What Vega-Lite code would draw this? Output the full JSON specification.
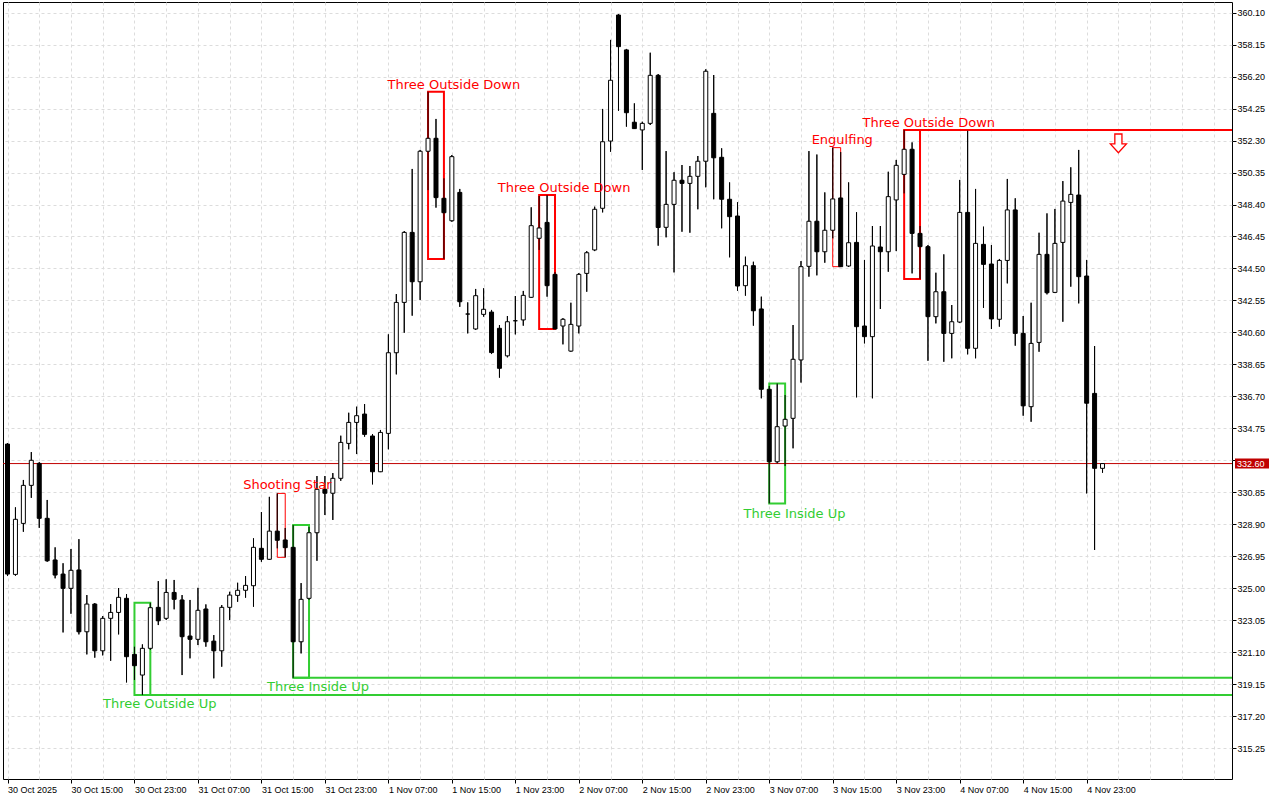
{
"$schema":"https://vega.github.io/schema/vega-lite/v6.json",
"width":1229,"height":777,
"autosize":{"type":"none"},
"padding":{"left":3,"top":2,"right":48,"bottom":21},
"background":"white",
"config":{
"view":{"stroke":"black","strokeWidth":1},
"axis":{"labelFont":"Liberation Sans","labelFontSize":9,"labelColor":"black","tickColor":"black","domain":false,"gridColor":"#dcdcdc","gridDash":[3,3],"gridWidth":1}
},
"datasets":{
"candles":[
{"t":"2025-10-30T07:00Z","o":333.79,"h":333.85,"l":325.74,"c":325.86},
{"t":"2025-10-30T08:00Z","o":325.84,"h":329.93,"l":325.76,"c":329.20},
{"t":"2025-10-30T09:00Z","o":328.95,"h":331.60,"l":328.44,"c":331.27},
{"t":"2025-10-30T10:00Z","o":331.27,"h":333.30,"l":330.51,"c":332.80},
{"t":"2025-10-30T11:00Z","o":332.61,"h":332.69,"l":328.68,"c":329.26},
{"t":"2025-10-30T12:00Z","o":329.26,"h":330.38,"l":326.61,"c":326.67},
{"t":"2025-10-30T13:00Z","o":326.72,"h":327.49,"l":325.60,"c":325.80},
{"t":"2025-10-30T14:00Z","o":325.86,"h":326.52,"l":322.30,"c":324.99},
{"t":"2025-10-30T15:00Z","o":324.99,"h":327.39,"l":323.44,"c":326.09},
{"t":"2025-10-30T16:00Z","o":326.11,"h":327.99,"l":322.18,"c":322.34},
{"t":"2025-10-30T17:00Z","o":322.34,"h":324.58,"l":320.96,"c":324.03},
{"t":"2025-10-30T18:00Z","o":324.03,"h":324.09,"l":320.76,"c":321.18},
{"t":"2025-10-30T19:00Z","o":321.18,"h":323.30,"l":320.90,"c":323.16},
{"t":"2025-10-30T20:00Z","o":323.16,"h":324.03,"l":320.57,"c":323.52},
{"t":"2025-10-30T21:00Z","o":323.52,"h":325.01,"l":322.18,"c":324.44},
{"t":"2025-10-30T22:00Z","o":324.38,"h":324.64,"l":319.25,"c":320.82},
{"t":"2025-10-30T23:00Z","o":320.96,"h":321.43,"l":319.40,"c":320.27},
{"t":"2025-10-31T00:00Z","o":319.70,"h":321.57,"l":318.48,"c":321.33},
{"t":"2025-10-31T01:00Z","o":321.33,"h":324.11,"l":321.23,"c":323.81},
{"t":"2025-10-31T02:00Z","o":323.83,"h":325.43,"l":322.75,"c":323.01},
{"t":"2025-10-31T03:00Z","o":323.16,"h":325.54,"l":323.06,"c":324.74},
{"t":"2025-10-31T04:00Z","o":324.74,"h":325.50,"l":323.71,"c":324.32},
{"t":"2025-10-31T05:00Z","o":324.28,"h":324.58,"l":319.70,"c":322.04},
{"t":"2025-10-31T06:00Z","o":322.08,"h":324.28,"l":320.72,"c":321.88},
{"t":"2025-10-31T07:00Z","o":321.88,"h":325.02,"l":321.53,"c":323.65},
{"t":"2025-10-31T08:00Z","o":323.73,"h":324.01,"l":321.43,"c":321.73},
{"t":"2025-10-31T09:00Z","o":321.77,"h":322.14,"l":319.50,"c":321.18},
{"t":"2025-10-31T10:00Z","o":321.18,"h":323.97,"l":320.21,"c":323.83},
{"t":"2025-10-31T11:00Z","o":323.83,"h":324.78,"l":323.06,"c":324.58},
{"t":"2025-10-31T12:00Z","o":324.56,"h":325.33,"l":324.17,"c":324.87},
{"t":"2025-10-31T13:00Z","o":324.87,"h":325.74,"l":324.42,"c":325.17},
{"t":"2025-10-31T14:00Z","o":325.15,"h":328.04,"l":323.87,"c":327.49},
{"t":"2025-10-31T15:00Z","o":327.43,"h":329.64,"l":326.61,"c":326.76},
{"t":"2025-10-31T16:00Z","o":326.76,"h":330.57,"l":326.72,"c":328.48},
{"t":"2025-10-31T17:00Z","o":328.48,"h":330.78,"l":327.43,"c":327.92},
{"t":"2025-10-31T18:00Z","o":327.94,"h":328.67,"l":326.88,"c":327.47},
{"t":"2025-10-31T19:00Z","o":327.49,"h":328.85,"l":319.53,"c":321.73},
{"t":"2025-10-31T20:00Z","o":321.73,"h":325.31,"l":321.02,"c":324.32},
{"t":"2025-10-31T21:00Z","o":324.38,"h":328.73,"l":324.28,"c":328.38},
{"t":"2025-10-31T22:00Z","o":328.38,"h":331.84,"l":326.67,"c":331.03},
{"t":"2025-10-31T23:00Z","o":331.03,"h":331.84,"l":329.46,"c":330.79},
{"t":"2025-11-01T00:00Z","o":330.79,"h":332.02,"l":329.16,"c":331.70},
{"t":"2025-11-01T01:00Z","o":331.70,"h":334.30,"l":331.55,"c":333.89},
{"t":"2025-11-01T02:00Z","o":333.83,"h":335.70,"l":333.47,"c":335.11},
{"t":"2025-11-01T03:00Z","o":335.11,"h":336.07,"l":333.18,"c":335.52},
{"t":"2025-11-01T04:00Z","o":335.62,"h":336.23,"l":334.24,"c":334.38},
{"t":"2025-11-01T05:00Z","o":334.28,"h":334.40,"l":331.33,"c":332.10},
{"t":"2025-11-01T06:00Z","o":332.10,"h":334.65,"l":332.08,"c":334.50},
{"t":"2025-11-01T07:00Z","o":334.44,"h":340.48,"l":333.47,"c":339.36},
{"t":"2025-11-01T08:00Z","o":339.36,"h":342.94,"l":338.04,"c":342.43},
{"t":"2025-11-01T09:00Z","o":342.43,"h":346.78,"l":340.58,"c":346.70},
{"t":"2025-11-01T10:00Z","o":346.70,"h":350.57,"l":341.62,"c":343.69},
{"t":"2025-11-01T11:00Z","o":343.69,"h":351.73,"l":342.58,"c":351.65},
{"t":"2025-11-01T12:00Z","o":351.65,"h":355.28,"l":349.28,"c":352.44},
{"t":"2025-11-01T13:00Z","o":352.44,"h":353.62,"l":348.21,"c":348.82},
{"t":"2025-11-01T14:00Z","o":348.78,"h":350.00,"l":345.08,"c":347.90},
{"t":"2025-11-01T15:00Z","o":347.41,"h":351.42,"l":347.35,"c":351.32},
{"t":"2025-11-01T16:00Z","o":349.14,"h":349.35,"l":342.16,"c":342.47},
{"t":"2025-11-01T17:00Z","o":341.72,"h":342.43,"l":340.54,"c":341.72},
{"t":"2025-11-01T18:00Z","o":340.81,"h":343.25,"l":340.75,"c":342.84},
{"t":"2025-11-01T19:00Z","o":341.70,"h":343.29,"l":341.56,"c":342.01},
{"t":"2025-11-01T20:00Z","o":341.84,"h":341.97,"l":339.28,"c":339.37},
{"t":"2025-11-01T21:00Z","o":340.85,"h":341.05,"l":337.84,"c":338.41},
{"t":"2025-11-01T22:00Z","o":339.17,"h":341.60,"l":339.08,"c":341.25},
{"t":"2025-11-01T23:00Z","o":341.31,"h":342.82,"l":340.48,"c":341.31},
{"t":"2025-11-02T00:00Z","o":341.36,"h":343.13,"l":341.01,"c":342.86},
{"t":"2025-11-02T01:00Z","o":342.74,"h":348.23,"l":342.70,"c":347.11},
{"t":"2025-11-02T02:00Z","o":346.34,"h":348.92,"l":345.63,"c":346.97},
{"t":"2025-11-02T03:00Z","o":347.31,"h":348.98,"l":342.78,"c":343.45},
{"t":"2025-11-02T04:00Z","o":344.14,"h":344.28,"l":340.81,"c":340.81},
{"t":"2025-11-02T05:00Z","o":340.99,"h":341.47,"l":339.87,"c":341.40},
{"t":"2025-11-02T06:00Z","o":339.46,"h":342.41,"l":339.42,"c":341.09},
{"t":"2025-11-02T07:00Z","o":340.99,"h":344.22,"l":340.54,"c":344.14},
{"t":"2025-11-02T08:00Z","o":344.20,"h":345.56,"l":343.08,"c":345.46},
{"t":"2025-11-02T09:00Z","o":345.63,"h":348.27,"l":345.56,"c":348.11},
{"t":"2025-11-02T10:00Z","o":348.17,"h":354.23,"l":347.92,"c":352.23},
{"t":"2025-11-02T11:00Z","o":352.27,"h":358.44,"l":351.62,"c":355.98},
{"t":"2025-11-02T12:00Z","o":359.96,"h":360.02,"l":354.12,"c":358.03},
{"t":"2025-11-02T13:00Z","o":357.83,"h":357.89,"l":353.15,"c":354.00},
{"t":"2025-11-02T14:00Z","o":353.42,"h":354.57,"l":353.01,"c":353.03},
{"t":"2025-11-02T15:00Z","o":352.95,"h":353.45,"l":350.51,"c":353.35},
{"t":"2025-11-02T16:00Z","o":353.35,"h":357.66,"l":353.25,"c":356.28},
{"t":"2025-11-02T17:00Z","o":356.28,"h":356.36,"l":345.89,"c":347.00},
{"t":"2025-11-02T18:00Z","o":347.01,"h":351.66,"l":346.40,"c":348.41},
{"t":"2025-11-02T19:00Z","o":348.41,"h":350.37,"l":344.26,"c":349.88},
{"t":"2025-11-02T20:00Z","o":349.88,"h":350.81,"l":346.74,"c":349.69},
{"t":"2025-11-02T21:00Z","o":349.69,"h":350.75,"l":346.68,"c":350.12},
{"t":"2025-11-02T22:00Z","o":350.12,"h":351.36,"l":348.11,"c":351.04},
{"t":"2025-11-02T23:00Z","o":351.04,"h":356.65,"l":349.45,"c":356.53},
{"t":"2025-11-03T00:00Z","o":353.96,"h":356.30,"l":348.72,"c":351.25},
{"t":"2025-11-03T01:00Z","o":351.28,"h":351.83,"l":346.95,"c":348.72},
{"t":"2025-11-03T02:00Z","o":348.72,"h":349.75,"l":345.18,"c":347.66},
{"t":"2025-11-03T03:00Z","o":347.70,"h":348.54,"l":343.14,"c":343.43},
{"t":"2025-11-03T04:00Z","o":343.45,"h":345.22,"l":342.84,"c":344.67},
{"t":"2025-11-03T05:00Z","o":344.67,"h":344.91,"l":341.01,"c":341.92},
{"t":"2025-11-03T06:00Z","o":342.03,"h":342.78,"l":336.58,"c":337.13},
{"t":"2025-11-03T07:00Z","o":337.13,"h":337.33,"l":330.17,"c":332.71},
{"t":"2025-11-03T08:00Z","o":332.71,"h":337.49,"l":332.61,"c":334.85},
{"t":"2025-11-03T09:00Z","o":334.89,"h":336.78,"l":332.45,"c":335.30},
{"t":"2025-11-03T10:00Z","o":335.36,"h":341.05,"l":333.53,"c":338.96},
{"t":"2025-11-03T11:00Z","o":338.92,"h":344.95,"l":337.54,"c":344.61},
{"t":"2025-11-03T12:00Z","o":344.63,"h":351.66,"l":344.00,"c":347.38},
{"t":"2025-11-03T13:00Z","o":347.38,"h":351.45,"l":344.08,"c":345.52},
{"t":"2025-11-03T14:00Z","o":345.52,"h":349.14,"l":344.85,"c":346.83},
{"t":"2025-11-03T15:00Z","o":346.83,"h":351.87,"l":346.34,"c":348.74},
{"t":"2025-11-03T16:00Z","o":348.80,"h":351.60,"l":344.59,"c":344.61},
{"t":"2025-11-03T17:00Z","o":344.65,"h":349.75,"l":344.59,"c":346.07},
{"t":"2025-11-03T18:00Z","o":346.09,"h":347.93,"l":336.64,"c":340.95},
{"t":"2025-11-03T19:00Z","o":340.99,"h":345.02,"l":339.93,"c":340.34},
{"t":"2025-11-03T20:00Z","o":340.34,"h":347.09,"l":336.58,"c":345.87},
{"t":"2025-11-03T21:00Z","o":345.81,"h":347.09,"l":342.03,"c":345.52},
{"t":"2025-11-03T22:00Z","o":345.52,"h":350.40,"l":344.30,"c":348.88},
{"t":"2025-11-03T23:00Z","o":348.68,"h":351.12,"l":345.56,"c":350.79},
{"t":"2025-11-04T00:00Z","o":350.24,"h":352.95,"l":349.08,"c":351.77},
{"t":"2025-11-04T01:00Z","o":351.77,"h":352.19,"l":344.20,"c":346.64},
{"t":"2025-11-04T02:00Z","o":346.64,"h":347.09,"l":343.86,"c":345.83},
{"t":"2025-11-04T03:00Z","o":345.83,"h":345.93,"l":338.87,"c":341.56},
{"t":"2025-11-04T04:00Z","o":341.56,"h":344.24,"l":341.15,"c":343.08},
{"t":"2025-11-04T05:00Z","o":343.08,"h":345.36,"l":338.81,"c":340.54},
{"t":"2025-11-04T06:00Z","o":340.54,"h":342.27,"l":339.02,"c":341.25},
{"t":"2025-11-04T07:00Z","o":341.23,"h":349.90,"l":341.17,"c":347.92},
{"t":"2025-11-04T08:00Z","o":347.92,"h":352.90,"l":339.26,"c":339.63},
{"t":"2025-11-04T09:00Z","o":339.63,"h":349.35,"l":339.02,"c":346.03},
{"t":"2025-11-04T10:00Z","o":345.97,"h":347.05,"l":342.10,"c":344.75},
{"t":"2025-11-04T11:00Z","o":344.77,"h":345.93,"l":340.81,"c":341.42},
{"t":"2025-11-04T12:00Z","o":341.40,"h":345.08,"l":340.95,"c":344.99},
{"t":"2025-11-04T13:00Z","o":344.99,"h":349.96,"l":343.59,"c":348.07},
{"t":"2025-11-04T14:00Z","o":348.07,"h":348.78,"l":339.79,"c":340.54},
{"t":"2025-11-04T15:00Z","o":340.54,"h":341.60,"l":335.52,"c":336.12},
{"t":"2025-11-04T16:00Z","o":336.07,"h":342.41,"l":335.15,"c":339.93},
{"t":"2025-11-04T17:00Z","o":339.99,"h":346.68,"l":339.42,"c":345.36},
{"t":"2025-11-04T18:00Z","o":345.36,"h":347.86,"l":342.92,"c":343.02},
{"t":"2025-11-04T19:00Z","o":343.04,"h":348.13,"l":343.00,"c":346.03},
{"t":"2025-11-04T20:00Z","o":346.09,"h":349.83,"l":341.25,"c":348.61},
{"t":"2025-11-04T21:00Z","o":348.53,"h":350.67,"l":343.39,"c":349.02},
{"t":"2025-11-04T22:00Z","o":348.98,"h":351.73,"l":342.37,"c":344.00},
{"t":"2025-11-04T23:00Z","o":344.04,"h":345.02,"l":330.78,"c":336.28},
{"t":"2025-11-05T00:00Z","o":336.88,"h":339.77,"l":327.33,"c":332.31},
{"t":"2025-11-05T01:00Z","o":332.31,"h":332.60,"l":332.04,"c":332.60}
],
"patterns":[
{"name":"Three Outside Up","kind":"bull","bars":3,"t1":"2025-10-30T23:00Z","t2":"2025-10-31T01:00Z","top":324.11,"bottom":318.48},
{"name":"Shooting Star","kind":"bear","bars":2,"t1":"2025-10-31T17:00Z","t2":"2025-10-31T18:00Z","top":330.78,"bottom":326.88},
{"name":"Three Inside Up","kind":"bull","bars":3,"t1":"2025-10-31T19:00Z","t2":"2025-10-31T21:00Z","top":328.85,"bottom":319.53},
{"name":"Three Outside Down","kind":"bear","bars":3,"t1":"2025-11-01T12:00Z","t2":"2025-11-01T14:00Z","top":355.28,"bottom":345.08},
{"name":"Three Outside Down","kind":"bear","bars":3,"t1":"2025-11-02T02:00Z","t2":"2025-11-02T04:00Z","top":348.98,"bottom":340.81},
{"name":"Three Inside Up","kind":"bull","bars":3,"t1":"2025-11-03T07:00Z","t2":"2025-11-03T09:00Z","top":337.49,"bottom":330.17},
{"name":"Engulfing","kind":"bear","bars":2,"t1":"2025-11-03T15:00Z","t2":"2025-11-03T16:00Z","top":351.87,"bottom":344.61},
{"name":"Three Outside Down","kind":"bear","bars":3,"t1":"2025-11-04T00:00Z","t2":"2025-11-04T02:00Z","top":352.95,"bottom":343.86}
],
"labels":[
{"text":"Three Outside Up","kind":"bull","t":"2025-10-31T02:11Z","price":317.67},
{"text":"Shooting Star","kind":"bear","t":"2025-10-31T18:16Z","price":331.03},
{"text":"Three Inside Up","kind":"bull","t":"2025-10-31T22:08Z","price":318.75},
{"text":"Three Outside Down","kind":"bear","t":"2025-11-01T15:15Z","price":355.42},
{"text":"Three Outside Down","kind":"bear","t":"2025-11-02T05:09Z","price":349.16},
{"text":"Three Inside Up","kind":"bull","t":"2025-11-03T10:11Z","price":329.30},
{"text":"Engulfing","kind":"bear","t":"2025-11-03T16:12Z","price":352.07},
{"text":"Three Outside Down","kind":"bear","t":"2025-11-04T03:06Z","price":353.11}
],
"levels":[
{"kind":"bull","t":"2025-10-30T23:00Z","end":"2025-11-05T18:00Z","price":318.48},
{"kind":"bull","t":"2025-10-31T19:00Z","end":"2025-11-05T18:00Z","price":319.53},
{"kind":"bear","t":"2025-11-04T00:00Z","end":"2025-11-05T18:00Z","price":352.95}
],
"signal":[{"t":"2025-11-05T03:00Z","price":352.13}],
"bid":[{"price":332.6,"label":"332.60"}]
},
"layer":[
{"data":{"name":"candles"},
"mark":{"type":"rule","color":"black","strokeWidth":1,"clip":true},
"encoding":{
"x":{"field":"t","type":"temporal","title":null,"scale":{"type":"utc","domain":[1761807825000,1762360875000],"nice":false},
"axis":{"orient":"bottom","grid":true,"tickCount":200,"values":[1761807600000,1761822000000,1761836400000,1761850800000,1761865200000,1761879600000,1761894000000,1761908400000,1761922800000,1761937200000,1761951600000,1761966000000,1761980400000,1761994800000,1762009200000,1762023600000,1762038000000,1762052400000,1762066800000,1762081200000,1762095600000,1762110000000,1762124400000,1762138800000,1762153200000,1762167600000,1762182000000,1762196400000,1762210800000,1762225200000,1762239600000,1762254000000,1762268400000,1762282800000,1762297200000,1762311600000,1762326000000,1762340400000,1762354800000],
"labelExpr":"utcFormat(datum.value, '%d %H') == '30 07' ? '30 Oct 2025' : (utchours(datum.value) % 8 == 7 && time(datum.value) <= 1762297200000 ? utcFormat(datum.value, '%-d %b %H:%M') : '')",
"tickColor":{"condition":{"test":"utchours(datum.value) % 8 == 7 && time(datum.value) <= 1762297200000","value":"black"},"value":"transparent"},
"tickSize":4,"labelPadding":2,"labelAlign":"left","labelOverlap":false,"labelFlush":false}},
"y":{"field":"l","type":"quantitative","title":null,"scale":{"domain":[313.36,360.753],"zero":false,"nice":false},
"axis":{"orient":"right","grid":true,"tickCount":200,"values":[315.25,317.2,319.15,321.1,323.05,325,326.95,328.9,330.85,332.8,334.75,336.7,338.65,340.6,342.55,344.5,346.45,348.4,350.35,352.3,354.25,356.2,358.15,360.1],"format":".2f","labelExpr":"abs(datum.value - 332.8) < 0.01 ? '' : datum.label","tickSize":4,"labelPadding":1,"labelOverlap":false,"labelFlush":false}},
"y2":{"field":"h"}}},
{"data":{"name":"levels","format":{"parse":{"t":"date","end":"date"}}},
"mark":{"type":"rule","strokeWidth":2,"clip":true},
"encoding":{
"x":{"field":"t","type":"temporal","title":null},
"x2":{"field":"end"},
"y":{"field":"price","type":"quantitative","title":null},
"stroke":{"field":"kind","type":"nominal","scale":{"domain":["bear","bull"],"range":["#ff0000","#32cd32"]},"legend":null}}},
{"data":{"name":"patterns","format":{"parse":{"t1":"date","t2":"date"}}},
"mark":{"type":"rect","fillOpacity":0,"clip":true},
"encoding":{
"x":{"field":"t1","type":"temporal","title":null},
"x2":{"field":"t2"},
"y":{"field":"top","type":"quantitative","title":null},
"y2":{"field":"bottom"},
"stroke":{"field":"kind","type":"nominal","scale":{"domain":["bear","bull"],"range":["#ff0000","#32cd32"]},"legend":null},
"strokeWidth":{"condition":{"test":"datum.bars == 2","value":1},"value":2}}},
{"data":{"name":"bid"},
"mark":{"type":"rule","color":"#c00000","strokeWidth":1},
"encoding":{"y":{"field":"price","type":"quantitative","title":null}}},
{"data":{"name":"candles"},
"mark":{"type":"rule","color":"black","strokeWidth":1,"clip":true},
"encoding":{
"x":{"field":"t","type":"temporal","title":null},
"y":{"field":"l","type":"quantitative","title":null},
"y2":{"field":"h"}}},
{"data":{"name":"candles"},
"mark":{"type":"bar","size":4,"stroke":"black","strokeWidth":1,"clip":true},
"encoding":{
"x":{"field":"t","type":"temporal","title":null},
"y":{"field":"o","type":"quantitative","title":null},
"y2":{"field":"c"},
"fill":{"condition":{"test":"datum.c >= datum.o","value":"white"},"value":"black"}}},
{"data":{"name":"labels"},
"mark":{"type":"text","font":"DejaVu Sans","fontSize":13,"align":"center","baseline":"alphabetic"},
"encoding":{
"x":{"field":"t","type":"temporal","title":null},
"y":{"field":"price","type":"quantitative","title":null},
"text":{"field":"text"},
"color":{"field":"kind","type":"nominal","scale":{"domain":["bear","bull"],"range":["#ff0000","#32cd32"]},"legend":null}}},
{"data":{"name":"signal"},
"mark":{"type":"point","shape":"M -0.38 -1 L 0.38 -1 L 0.38 0.05 L 0.86 0.05 L 0 1 L -0.86 0.05 L -0.38 0.05 Z","size":350,"filled":true,"fill":"white","stroke":"#ff0000","strokeWidth":1.3,"opacity":1},
"encoding":{
"x":{"field":"t","type":"temporal","title":null},
"y":{"field":"price","type":"quantitative","title":null}}},
{"data":{"name":"bid"},
"mark":{"type":"point","x":"width","shape":"M 0.3 -0.5 L 3.7 -0.5 L 3.7 0.5 L 0.3 0.5 Z","size":400,"filled":true,"fill":"#c00000","strokeWidth":0,"opacity":1},
"encoding":{"y":{"field":"price","type":"quantitative","title":null}}},
{"data":{"name":"bid"},
"mark":{"type":"text","x":"width","dx":5,"align":"left","baseline":"middle","fill":"white","font":"Liberation Sans","fontSize":9},
"encoding":{
"y":{"field":"price","type":"quantitative","title":null},
"text":{"field":"label"}}}
]
}
